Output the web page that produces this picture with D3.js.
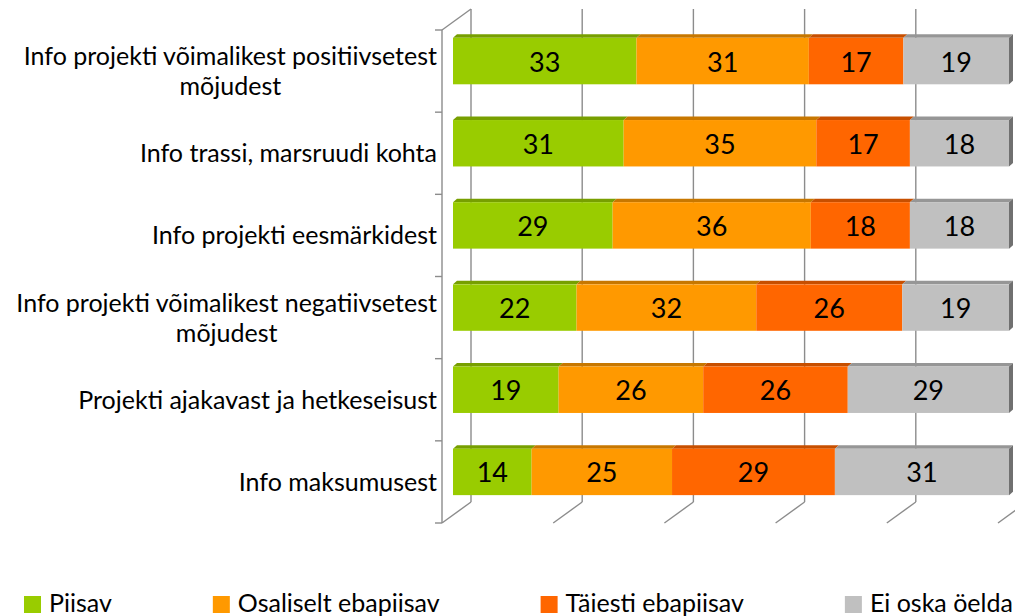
<!DOCTYPE html>
<html>
<head>
<meta charset="utf-8">
<script src="https://cdn.jsdelivr.net/npm/d3@7"></script>
<style>
  body { margin: 0; background: #fff; }
  svg { display: block; font-family: Lato, "Open Sans", sans-serif; }
</style>
</head>
<body>
<div id="chart"></div>
<script>
const categories = [
  'Info projekti võimalikest positiivsetest mõjudest',
  'Info trassi, marsruudi kohta',
  'Info projekti eesmärkidest',
  'Info projekti võimalikest negatiivsetest mõjudest',
  'Projekti ajakavast ja hetkeseisust',
  'Info maksumusest'
];
const seriesNames = ['Piisav', 'Osaliselt ebapiisav', 'Täiesti ebapiisav', 'Ei oska öelda'];
const piisav = [33, 31, 29, 22, 19, 14];
const osaliselt = [31, 35, 36, 32, 26, 25];
const taiesti = [17, 17, 18, 26, 26, 29];
const eiOska = [19, 18, 18, 19, 29, 31];
const colors = ['#99cc00', '#ff9900', '#ff6600', '#c0c0c0'];
const gridValues = [0, 0.2, 0.4, 0.6, 0.8, 1];

const W = 1015, H = 616;
const svg = d3.select('#chart').append('svg').attr('width', W).attr('height', H);

// rows for the stack
const rows = categories.map((c, i) => ({
  cat: c, s0: piisav[i], s1: osaliselt[i], s2: taiesti[i], s3: eiOska[i]
}));
const stack = d3.stack().keys(['s0', 's1', 's2', 's3']).offset(d3.stackOffsetExpand);
const layers = stack(rows);

// front plane of the 3D box, depth vector goes back
const x = d3.scaleLinear().domain([0, 1]).range([442, 998]);
const y = d3.scaleBand().domain(categories).range([30, 523]).paddingInner(0.435).paddingOuter(0.2175);
const DX = 29, DY = -21;        // wall depth
const BX = 11, BY = -10;        // bar front face offset
const TX = 4, TY = -3.5;        // bar thickness
const gridColor = '#8c8c8c';

const grid = svg.append('g').attr('stroke', gridColor).attr('stroke-width', 1.4).attr('fill', 'none');
const yTop = 30, yBot = 523;

// back wall gridlines and floor lines
gridValues.forEach(v => {
  grid.append('line').attr('x1', x(v) + DX).attr('x2', x(v) + DX)
    .attr('y1', yTop + DY).attr('y2', yBot + DY);
  grid.append('line').attr('x1', x(v) + DX).attr('y1', yBot + DY)
    .attr('x2', x(v)).attr('y2', yBot);
});
// left wall
grid.append('line').attr('x1', x(0)).attr('x2', x(0)).attr('y1', yTop).attr('y2', yBot);
grid.append('line').attr('x1', x(0)).attr('y1', yTop).attr('x2', x(0) + DX).attr('y2', yTop + DY);
// category ticks
d3.range(categories.length + 1).forEach(k => {
  const ty = yTop + k * y.step();
  grid.append('line').attr('x1', x(0) - 7).attr('x2', x(0)).attr('y1', ty).attr('y2', ty);
});

// bars
const bars = svg.append('g');
layers.forEach((layer, li) => {
  const c = d3.color(colors[li]);
  layer.forEach((d, i) => {
    const x0 = x(d[0]) + BX, x1 = x(d[1]) + BX;
    const y0 = y(categories[i]) + BY, h = y.bandwidth();
    // top face
    bars.append('path')
      .attr('d', `M${x0},${y0}L${x0 + TX},${y0 + TY}L${x1 + TX},${y0 + TY}L${x1},${y0}Z`)
      .attr('fill', c.darker(0.7));
    // side face on the end of the bar
    if (li === layers.length - 1) {
      bars.append('path')
        .attr('d', `M${x1},${y0}L${x1 + TX},${y0 + TY}L${x1 + TX},${y0 + h + TY}L${x1},${y0 + h}Z`)
        .attr('fill', c.darker(1.5));
    }
    bars.append('rect').attr('x', x0).attr('y', y0).attr('width', x1 - x0).attr('height', h)
      .attr('fill', colors[li]);
    const raw = [piisav, osaliselt, taiesti, eiOska][li][i];
    bars.append('text').attr('x', (x0 + x1) / 2).attr('y', y0 + h / 2)
      .attr('text-anchor', 'middle').attr('dominant-baseline', 'central')
      .attr('font-size', 27).attr('fill', '#000').text(raw);
  });
});

// category labels, wrapped and centered on the widest line, right aligned
const labels = svg.append('g').attr('font-size', 25).attr('fill', '#000');
const maxW = 430, lineH = 30, labelRight = 437;
categories.forEach((c, i) => {
  const words = c.split(' ');
  const lines = [];
  let cur = '';
  const probe = labels.append('text');
  words.forEach(w => {
    const t = cur ? cur + ' ' + w : w;
    probe.text(t);
    if (probe.node().getComputedTextLength() > maxW && cur) { lines.push(cur); cur = w; }
    else cur = t;
  });
  lines.push(cur);
  const widths = lines.map(l => { probe.text(l); return probe.node().getComputedTextLength(); });
  probe.remove();
  const blockW = d3.max(widths);
  const cx = labelRight - blockW / 2;
  const cy = yTop + (i + 0.5) * y.step() - 1;
  lines.forEach((l, j) => {
    labels.append('text').attr('x', cx).attr('y', cy + (j - (lines.length - 1) / 2) * lineH)
      .attr('text-anchor', 'middle').attr('dominant-baseline', 'central').text(l);
  });
});

// legend (cut by the bottom edge, as in the original)
const legend = svg.append('g').attr('font-size', 25);
let lx = 24;
seriesNames.forEach((n, i) => {
  legend.append('rect').attr('x', lx).attr('y', 596).attr('width', 17).attr('height', 17).attr('fill', colors[i]);
  const t = legend.append('text').attr('x', lx + 25).attr('y', 612).attr('fill', '#000').text(n);
  lx += 25 + t.node().getComputedTextLength() + 101;
});
</script>
</body>
</html>
